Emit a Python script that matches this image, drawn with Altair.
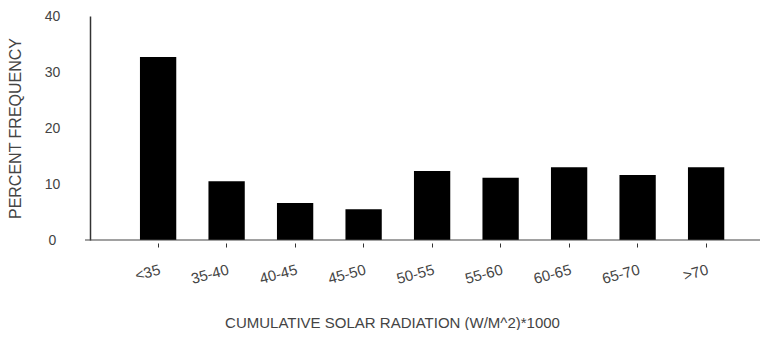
import altair as alt
import pandas as pd

categories = ["<35", "35-40", "40-45", "45-50", "50-55", "55-60", "60-65", "65-70", ">70"]
percent = [32.7, 10.5, 6.6, 5.5, 12.3, 11.1, 13.0, 11.6, 13.0]
y_ticks = [0, 10, 20, 30, 40]

df = pd.DataFrame({"cat": categories, "pct": percent})

FONT = "Liberation Sans"
TXT = "#444444"

bars = alt.Chart(df).mark_bar(color="#000000").encode(
    x=alt.X(
        "cat:N",
        sort=categories,
        scale=alt.Scale(paddingInner=0.47, paddingOuter=0.6255, align=0.583),
        axis=alt.Axis(
            title="CUMULATIVE SOLAR RADIATION (W/M^2)*1000",
            labelAngle=-15,
            labelAlign="right",
            labelBaseline="top",
            labelPadding=15,
            labelFontSize=15,
            labelColor=TXT,
            labelFont=FONT,
            domain=False,
            ticks=True,
            tickSize=4,
            tickColor="#333333",
            offset=3,
            titleFont=FONT,
            titleFontSize=15,
            titleFontWeight="normal",
            titleColor=TXT,
            titleX=302,
            titleY=79,
            titleAlign="center",
            titleBaseline="middle",
        ),
    ),
    y=alt.Y(
        "pct:Q",
        scale=alt.Scale(domain=[0, 40], nice=False),
        axis=alt.Axis(
            title="PERCENT FREQUENCY",
            values=y_ticks,
            grid=False,
            ticks=False,
            domain=True,
            domainColor="#333333",
            domainWidth=1.5,
            labelPadding=38,
            labelAlign="center",
            labelFontSize=14,
            labelColor=TXT,
            labelFont=FONT,
            titleFont=FONT,
            titleFontSize=16,
            titleFontWeight="normal",
            titleColor=TXT,
            titleAngle=-90,
            titleX=-75,
            titleY=112,
            titleAlign="center",
            titleBaseline="middle",
        ),
    ),
)

xline = alt.Chart(pd.DataFrame({"y": [0]})).mark_rule(color="#444444", strokeWidth=1.2).encode(
    y="y:Q", x=alt.value(-5), x2=alt.value(670)
)

chart = (
    alt.layer(bars, xline)
    .properties(
        width=670,
        height=224,
        autosize=alt.AutoSizeParams(type="none"),
        padding={"left": 82, "top": 8, "right": 1, "bottom": 90},
    )
    .configure_view(stroke=None)
)

chart.save("out.html", embed_options={"renderer": "svg", "actions": False})
